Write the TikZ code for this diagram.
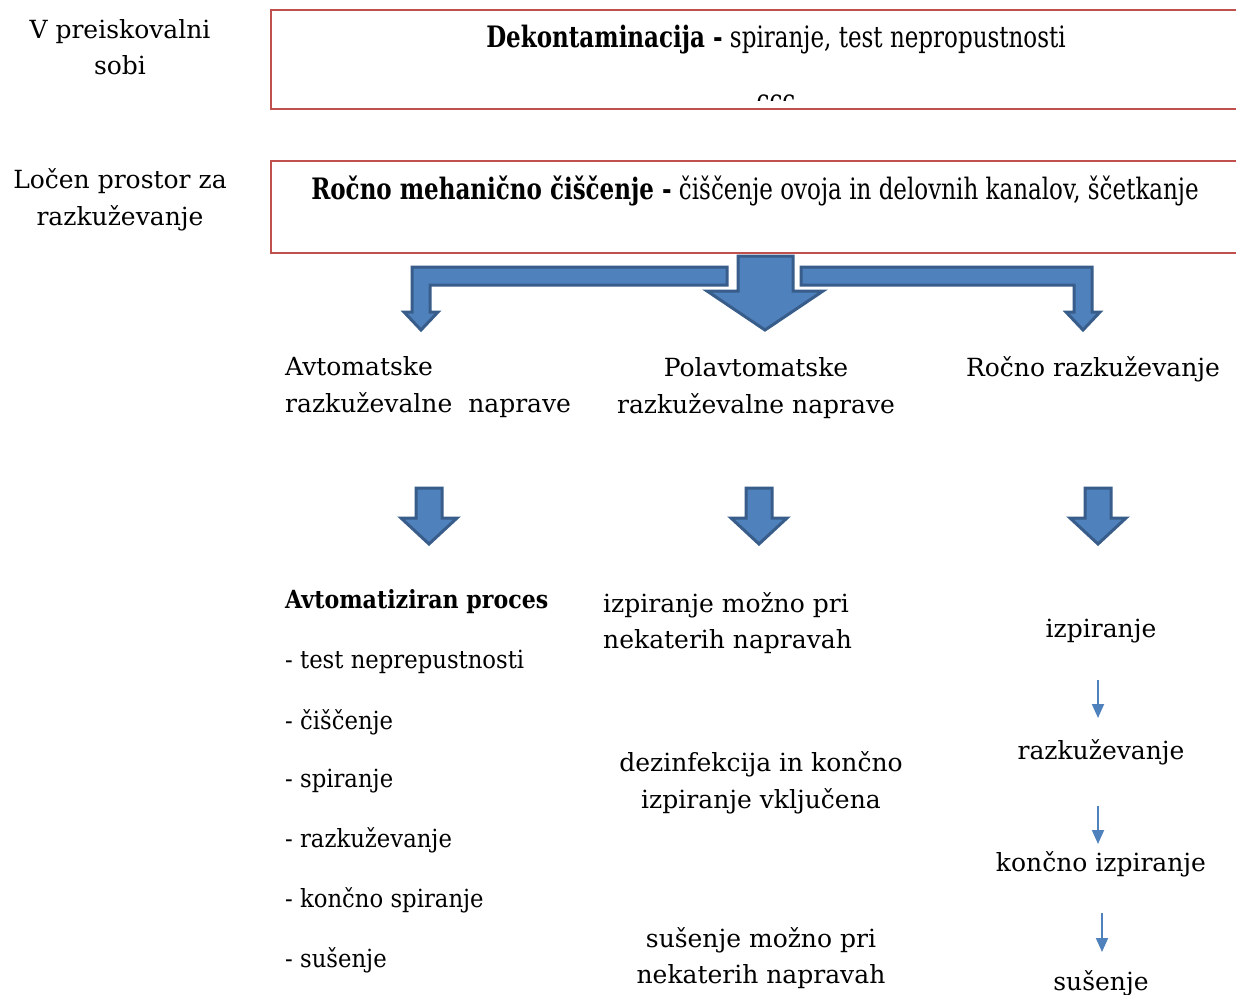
\documentclass[tikz,border=0pt]{standalone}
\usepackage{fontspec}
\setmainfont{DejaVu Serif}
\newfontfamily\cond[FakeStretch=0.78]{DejaVu Serif}
\newfontfamily\narrowf[FakeStretch=0.885]{DejaVu Serif}
\newfontfamily\listf[FakeStretch=0.91]{DejaVu Serif}
\usetikzlibrary{arrows.meta}
\definecolor{boxred}{HTML}{C0504D}
\definecolor{blfill}{HTML}{4F81BD}
\definecolor{blline}{HTML}{385D8A}
\begin{document}
\begin{tikzpicture}[x=1pt,y=-1pt,
  txt/.style={font=\fontsize{25}{36.5}\selectfont, inner sep=0pt},
  listtxt/.style={font=\listf\fontsize{25}{36.5}\selectfont, inner sep=0pt},
  boxtxt/.style={font=\cond\fontsize{29.5}{34}\selectfont, inner sep=0pt},
  stagebox/.style={draw=boxred, line width=1.5pt},
  blockarrow/.style={fill=blfill, draw=blline, line width=3pt, line join=miter},
  thinarrow/.style={draw=blfill, line width=1.8pt, -{Triangle[width=12pt,length=14pt]}}
]
\useasboundingbox (0,0) rectangle (1236,994);
\fill[white] (0,0) rectangle (1236,994);

% side labels
\node[txt, align=center] (lab1) at (120,47) {V preiskovalni\\sobi};
\node[txt, align=center] (lab2) at (120,200) {Ločen prostor za\\razkuževanje};

% boxes
\draw[stagebox] (1240,10) -- (270.75,10) -- (270.75,109) -- (1240,109);
\node[boxtxt] (deko) at (776,40) {\textbf{Dekontaminacija -} spiranje, test nepropustnosti};
\begin{scope}
\clip (272,12) rectangle (1236,100);
\node[boxtxt, anchor=north] (ccc) at (776,95) {\vphantom{c}ccc};
\end{scope}
\draw[stagebox] (1240,161) -- (270.75,161) -- (270.75,253) -- (1240,253);
\node[boxtxt] (rocno) at (755,191) {\textbf{Ročno mehanično čiščenje -} čiščenje ovoja in delovnih kanalov, ščetkanje};

% branching block arrows
\draw[blockarrow] (727,267) -- (412,267) -- (412,312) -- (404,312) -- (421,330) -- (438,312) -- (430,312) -- (430,285) -- (727,285) -- cycle;
\draw[blockarrow] (801,267) -- (1092,267) -- (1092,312) -- (1100,312) -- (1083,330) -- (1066,312) -- (1074,312) -- (1074,285) -- (801,285) -- cycle;
\draw[blockarrow] (738,256) -- (793,256) -- (793,291) -- (823,291) -- (765,330) -- (707,291) -- (738,291) -- cycle;

% second row
\node[txt, align=left, anchor=west] (avt) at (285,387) {Avtomatske\\razkuževalne\ \ naprave};
\node[txt, align=center] (polavt) at (756,388) {Polavtomatske\\razkuževalne naprave};
\node[txt] (rocraz) at (1093,369) {Ročno razkuževanje};

% down block arrows
\foreach \cx in {429,759,1098}{
  \draw[blockarrow] (\cx-13,488) -- (\cx+13,488) -- (\cx+13,518) -- (\cx+28,518) -- (\cx,544) -- (\cx-28,518) -- (\cx-13,518) -- cycle;
}

% left column
\node[txt, anchor=west] (proc) at (285,602) {\narrowf\bfseries Avtomatiziran proces};
\node[listtxt, anchor=west] (l1) at (285,662) {- test neprepustnosti};
\node[listtxt, anchor=west] (l2) at (285,722) {- čiščenje};
\node[listtxt, anchor=west] (l3) at (285,781) {- spiranje};
\node[listtxt, anchor=west] (l4) at (285,840) {- razkuževanje};
\node[listtxt, anchor=west] (l5) at (285,900) {- končno spiranje};
\node[listtxt, anchor=west] (l6) at (285,960) {- sušenje};

% middle column
\node[txt, align=left, anchor=west] (m1) at (603,623) {izpiranje možno pri\\nekaterih napravah};
\node[txt, align=center] (m2) at (761,783) {dezinfekcija in končno\\izpiranje vključena};
\node[txt, align=center] (m3) at (761,958) {sušenje možno pri\\nekaterih napravah};

% right column
\node[txt] (r1) at (1101,631) {izpiranje};
\node[txt] (r2) at (1101,752) {razkuževanje};
\node[txt] (r3) at (1101,864) {končno izpiranje};
\node[txt] (r4) at (1101,983) {sušenje};
\coordinate (a1s) at (1098,680);
\coordinate (a1e) at (1098,718);
\coordinate (a2s) at (1098,806);
\coordinate (a2e) at (1098,844);
\coordinate (a3s) at (1102,913);
\coordinate (a3e) at (1102,952);
\draw[thinarrow] (a1s) -- (a1e);
\draw[thinarrow] (a2s) -- (a2e);
\draw[thinarrow] (a3s) -- (a3e);
\end{tikzpicture}
\end{document}
